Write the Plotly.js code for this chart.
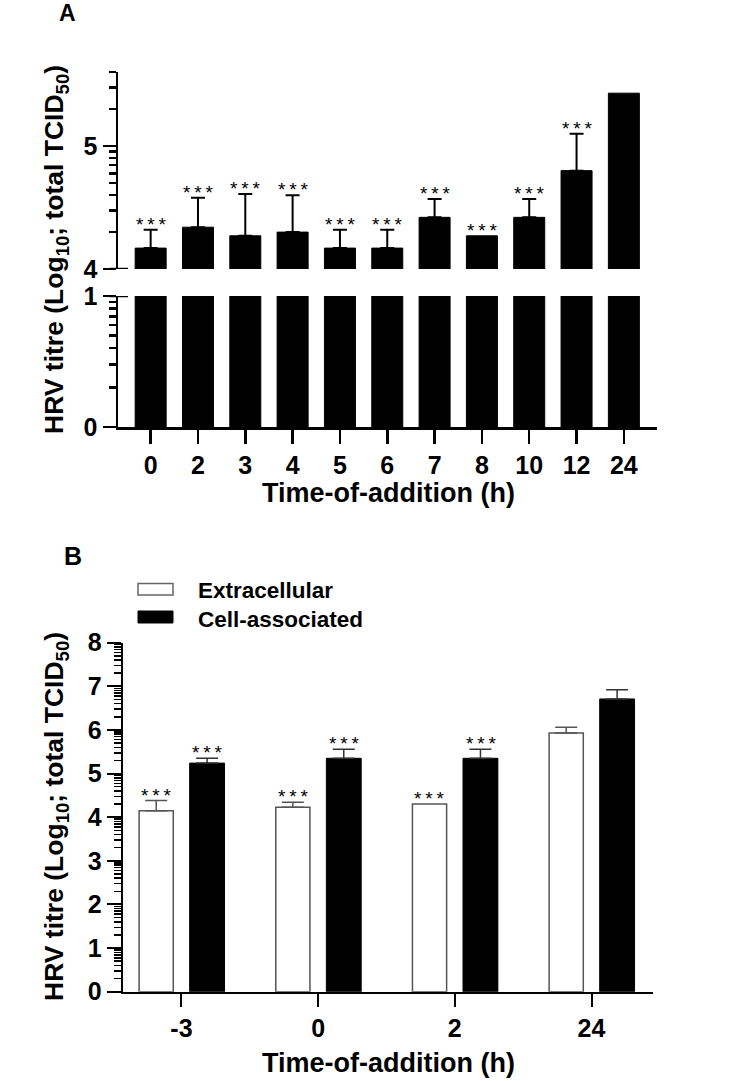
<!DOCTYPE html>
<html><head><meta charset="utf-8">
<script src="https://cdn.plot.ly/plotly-3.0.1.min.js"></script>
<style>html,body{margin:0;padding:0;background:#fff}#chart{width:755px;height:1081px}</style>
</head><body><div id="chart"></div>
<script>
// ---------- Panel A data (log10 total TCID50) ----------
const timesA = ["0","2","3","4","5","6","7","8","10","12","24"];
const titreA = [4.17, 4.34, 4.27, 4.30, 4.17, 4.17, 4.42, 4.27, 4.42, 4.80, 5.43];
const errA   = [0.15, 0.24, 0.34, 0.30, 0.15, 0.15, 0.15, null, 0.15, 0.30, null];
const sigA   = ["***","***","***","***","***","***","***","***","***","***",""];

// ---------- Panel B data ----------
const timesB = ["-3","0","2","24"];
const extracellular    = [4.15, 4.23, 4.30, 5.93];
const extracellularErr = [0.23, 0.11, null, 0.13];
const cellAssociated    = [5.24, 5.35, 5.35, 6.71];
const cellAssociatedErr = [0.11, 0.21, 0.21, 0.21];
const sigExtra = ["***","***","***",""];
const sigCell  = ["***","***","***",""];

// ---------- helpers ----------
const W = 755, H = 1081;
const px = v => v / W;
const py = v => 1 - v / H;
const up = arr => arr.map(v => v == null ? NaN : v);
const down = arr => arr.map(v => v == null ? NaN : 0);
const FONT = "Liberation Sans, Arial, Helvetica, sans-serif";
const logMinor = (from, to) => { const out = []; for (let d = from; d < to; d++) for (let k = 2; k <= 9; k++) out.push(d + Math.log10(k)); return out; };
const stars = s => s.split('').join('\u2009');

const traces = [
  { type: 'bar', x: timesA, y: titreA, xaxis: 'x', yaxis: 'y', width: 0.655,
    marker: { color: '#000', line: { color: '#000', width: 1 } }, hoverinfo: 'skip', showlegend: false },
  { type: 'bar', x: timesA, y: titreA, xaxis: 'x', yaxis: 'y2', width: 0.655,
    marker: { color: '#000', line: { color: '#000', width: 1 } },
    error_y: { type: 'data', symmetric: false, array: up(errA), arrayminus: down(errA), color: '#000', thickness: 2, width: 7 },
    hoverinfo: 'skip', showlegend: false },
  { type: 'bar', name: 'Extracellular', x: timesB, y: extracellular, xaxis: 'x2', yaxis: 'y3', width: 0.25, offset: -0.31,
    marker: { color: '#fff', line: { color: '#555', width: 1.5 } },
    error_y: { type: 'data', symmetric: false, array: up(extracellularErr), arrayminus: down(extracellularErr), color: '#555', thickness: 1.5, width: 11 },
    showlegend: false },
  { type: 'bar', name: 'Cell-associated', x: timesB, y: cellAssociated, xaxis: 'x2', yaxis: 'y3', width: 0.255, offset: 0.06,
    marker: { color: '#000', line: { color: '#000', width: 1 } },
    error_y: { type: 'data', symmetric: false, array: up(cellAssociatedErr), arrayminus: down(cellAssociatedErr), color: '#333', thickness: 1.5, width: 11 },
    showlegend: false }
];

const tickFont = { family: FONT, size: 25, color: '#000', weight: 'bold' };
const baseAxis = { showgrid: false, zeroline: false, showline: true, linecolor: '#000', fixedrange: true, ticks: 'outside', tickcolor: '#000', tickfont: tickFont };

const annotations = [];
const starFont = { family: FONT, size: 19, color: '#000' };
titreA.forEach((v, i) => {
  if (!sigA[i]) return;
  annotations.push({ x: i, y: v + (errA[i] || 0), xref: 'x', yref: 'y2', text: stars(sigA[i]),
    showarrow: false, xanchor: 'center', yanchor: 'bottom', yshift: -7, font: starFont });
});
extracellular.forEach((v, i) => {
  if (!sigExtra[i]) return;
  annotations.push({ x: i, y: v + (extracellularErr[i] || 0), xref: 'x2', yref: 'y3', text: stars(sigExtra[i]),
    showarrow: false, xanchor: 'center', yanchor: 'bottom', yshift: -7, xshift: -25.5, font: starFont });
});
cellAssociated.forEach((v, i) => {
  if (!sigCell[i]) return;
  annotations.push({ x: i, y: v + (cellAssociatedErr[i] || 0), xref: 'x2', yref: 'y3', text: stars(sigCell[i]),
    showarrow: false, xanchor: 'center', yanchor: 'bottom', yshift: -7, xshift: 25.8, font: starFont });
});

const titleFont = { family: FONT, size: 27, color: '#000', weight: 'bold' };
const yTitleFont = { family: FONT, size: 26.5, color: '#000', weight: 'bold' };
const legendFont = { family: FONT, size: 22.5, color: '#000', weight: 'bold' };
const yTitle = 'HRV titre (Log<sub>10</sub>; total TCID<sub>50</sub>)';
const paperNote = (text, x, y, font, extra) => Object.assign({ text: text, xref: 'paper', yref: 'paper', x: px(x), y: py(y),
  xanchor: 'center', yanchor: 'middle', showarrow: false, font: font }, extra || {});
annotations.push(
  paperNote('A', 67, 13, { family: FONT, size: 23, weight: 'bold', color: '#000' }),
  paperNote('B', 73, 556, { family: FONT, size: 25, weight: 'bold', color: '#000' }),
  paperNote(yTitle, 56, 250, yTitleFont, { textangle: -90 }),
  paperNote(yTitle, 56, 817, yTitleFont, { textangle: -90 }),
  paperNote('Time-of-addition (h)', 388, 493, titleFont),
  paperNote('Time-of-addition (h)', 388, 1063, titleFont),
  paperNote('Extracellular', 196, 590, legendFont, { xanchor: 'left' }),
  paperNote('Cell-associated', 196, 619, legendFont, { xanchor: 'left' })
);

const shapes = [
  { type: 'rect', xref: 'paper', yref: 'paper', x0: px(138), x1: px(173), y0: py(583.5), y1: py(595), fillcolor: '#fff', line: { color: '#666', width: 1.5 } },
  { type: 'rect', xref: 'paper', yref: 'paper', x0: px(138), x1: px(173), y0: py(611), y1: py(623), fillcolor: '#000', line: { color: '#000', width: 1 } },
  // axis-break tick extensions
  { type: 'line', xref: 'paper', yref: 'y2', x0: px(110), x1: px(128), y0: 4, y1: 4, line: { color: '#000', width: 2.5 } },
  { type: 'line', xref: 'paper', yref: 'y', x0: px(110), x1: px(128), y0: 1, y1: 1, line: { color: '#000', width: 2.5 } }
];

const layout = {
  width: W, height: H, margin: { l: 0, r: 0, t: 0, b: 0 },
  paper_bgcolor: '#fff', plot_bgcolor: 'rgba(0,0,0,0)',
  barmode: 'overlay', showlegend: false,
  font: { family: FONT, color: '#000' },
  xaxis: Object.assign({}, baseAxis, { type: 'category', anchor: 'y', domain: [px(118), px(657)], range: [-0.69, 10.7],
    linewidth: 2.5, ticklen: 14, tickwidth: 2.5 }),
  yaxis: Object.assign({}, baseAxis, { anchor: 'x', domain: [py(427), py(296)], range: [0, 1],
    tickvals: [0, 1], ticktext: ['0', '1'], linewidth: 2.5, ticklen: 13, tickwidth: 2.5,
    minor: { tickmode: 'array', tickvals: logMinor(0, 1), ticks: 'outside', ticklen: 7, tickwidth: 2.5, tickcolor: '#000', showgrid: false } }),
  yaxis2: Object.assign({}, baseAxis, { anchor: 'x', domain: [py(269), py(72)], range: [4, Math.log10(4e5)],
    tickvals: [4, 5], ticktext: ['4', '5'], linewidth: 2.5, ticklen: 13, tickwidth: 2.5,
    minor: { tickmode: 'array', tickvals: logMinor(4, 5).concat([Math.log10(2e5), Math.log10(3e5), Math.log10(4e5)]), ticks: 'outside', ticklen: 7, tickwidth: 2.5, tickcolor: '#000', showgrid: false } }),
  xaxis2: Object.assign({}, baseAxis, { type: 'category', anchor: 'y3', domain: [px(122.7), px(653)], range: [-0.43, 3.45],
    linewidth: 2, ticklen: 13, tickwidth: 2 }),
  yaxis3: Object.assign({}, baseAxis, { anchor: 'x2', domain: [py(991.7), py(642.7)], range: [0, 8],
    tickvals: [0,1,2,3,4,5,6,7,8], linewidth: 2, ticklen: 14, tickwidth: 2,
    minor: { tickmode: 'array', tickvals: logMinor(0, 8), ticks: 'outside', ticklen: 7, tickwidth: 1.5, tickcolor: '#000', showgrid: false } }),
  annotations: annotations,
  shapes: shapes
};

Plotly.newPlot('chart', traces, layout, { displayModeBar: false, staticPlot: true });
</script>
</body></html>
